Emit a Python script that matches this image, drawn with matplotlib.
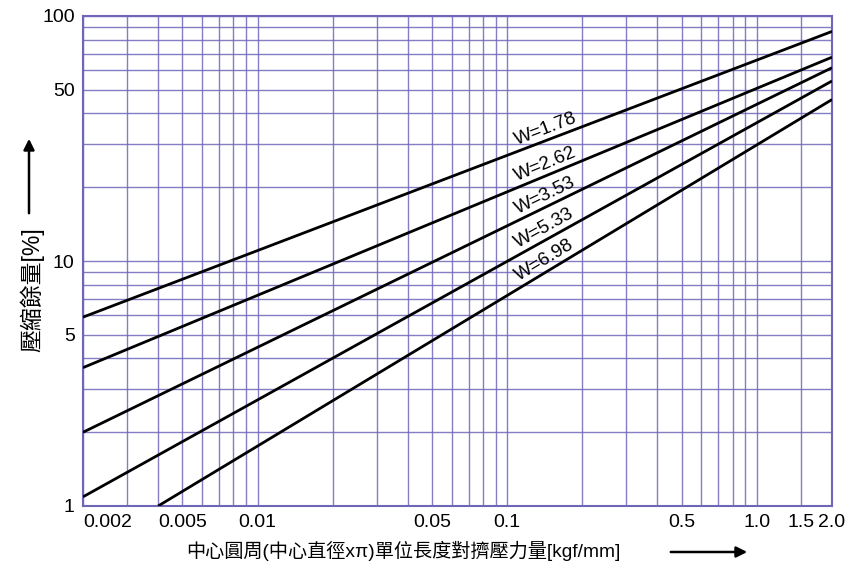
import numpy as np
import matplotlib
matplotlib.use("Agg")
import matplotlib.pyplot as plt

plt.rcParams['font.family'] = ['Liberation Sans', 'Noto Sans CJK TC', 'DejaVu Sans']

# Compression set curves: straight lines on log-log axes, one per cross-section W
w_labels = ["W=1.78", "W=2.62", "W=3.53", "W=5.33", "W=6.98"]
x_start = [0.002, 0.002, 0.002, 0.002, 0.004]
y_start = [5.9, 3.67, 2.0, 1.09, 1.0]
x_end = [2.0, 2.0, 2.0, 2.0, 2.0]
y_end = [86.5, 67.9, 61.5, 54.3, 45.6]

x_major = [0.002, 0.005, 0.01, 0.05, 0.1, 0.5, 1.0, 1.5, 2.0]
x_major_labels = ["0.002", "0.005", "0.01", "0.05", "0.1", "0.5", "1.0", "1.5", "2.0"]
y_major = [1, 5, 10, 50, 100]
y_major_labels = ["1", "5", "10", "50", "100"]

x_grid = ([i / 1000 for i in range(2, 10)] + [i / 100 for i in range(1, 10)]
          + [i / 10 for i in range(1, 10)] + [1.0, 1.5, 2.0])
y_grid = list(range(1, 10)) + list(range(10, 101, 10))

grid_color = "#6f66b8"

fig = plt.figure(figsize=(8.51, 5.69), dpi=100)
ax = fig.add_axes([83 / 851, 1 - 506 / 569, (832 - 83) / 851, (506 - 16) / 569])
ax.set_xscale("log")
ax.set_yscale("log")
ax.set_xlim(0.002, 2.0)
ax.set_ylim(1, 100)

for gx in x_grid:
    ax.axvline(gx, color=grid_color, lw=1.0, alpha=0.85, zorder=1)
for gy in y_grid:
    ax.axhline(gy, color=grid_color, lw=1.0, alpha=0.85, zorder=1)

for s in ax.spines.values():
    s.set_color(grid_color)
    s.set_linewidth(1.5)

ax.xaxis.set_minor_locator(matplotlib.ticker.NullLocator())
ax.yaxis.set_minor_locator(matplotlib.ticker.NullLocator())
ax.set_xticks(x_major)
ax.set_xticklabels(x_major_labels, fontsize=14)
ax.set_yticks(y_major)
ax.set_yticklabels(y_major_labels, fontsize=14)
ax.tick_params(axis="both", length=0, pad=6)
ax.get_xticklabels()[0].set_horizontalalignment("left")

fig.canvas.draw()

label_x = 0.148
for lab, xs, ys, xe, ye in zip(w_labels, x_start, y_start, x_end, y_end):
    ax.plot([xs, xe], [ys, ye], color="black", lw=2.0, zorder=3, solid_capstyle="butt")
    slope = np.log10(ye / ys) / np.log10(xe / xs)
    ly = ys * (label_x / xs) ** slope
    p0 = ax.transData.transform((xs, ys))
    p1 = ax.transData.transform((xe, ye))
    ang = np.degrees(np.arctan2(p1[1] - p0[1], p1[0] - p0[0]))
    nx, ny = -np.sin(np.radians(ang)), np.cos(np.radians(ang))
    ax.annotate(lab, xy=(label_x, ly), xytext=(nx * 1.5, ny * 1.5),
                textcoords="offset points", rotation=ang, rotation_mode="anchor",
                ha="center", va="bottom", fontsize=13.5, zorder=4)

fig.text(32 / 851, 1 - 290 / 569, "壓縮餘量[%]", rotation=90, ha="center", va="center",
         fontsize=16.5)
fig.text(403 / 851, 1 - 551 / 569, "中心圓周(中心直徑xπ)單位長度對擠壓力量[kgf/mm]",
         ha="center", va="center", fontsize=13.8)

fig.add_artist(matplotlib.patches.FancyArrowPatch(
    (29 / 851, 1 - 216 / 569), (29 / 851, 1 - 136 / 569), transform=fig.transFigure,
    arrowstyle="-|>", mutation_scale=16, lw=1.8, color="black"))
fig.add_artist(matplotlib.patches.FancyArrowPatch(
    (668 / 851, 1 - 552 / 569), (750 / 851, 1 - 552 / 569), transform=fig.transFigure,
    arrowstyle="-|>", mutation_scale=16, lw=1.8, color="black"))

fig.savefig("out.png", dpi=100)
